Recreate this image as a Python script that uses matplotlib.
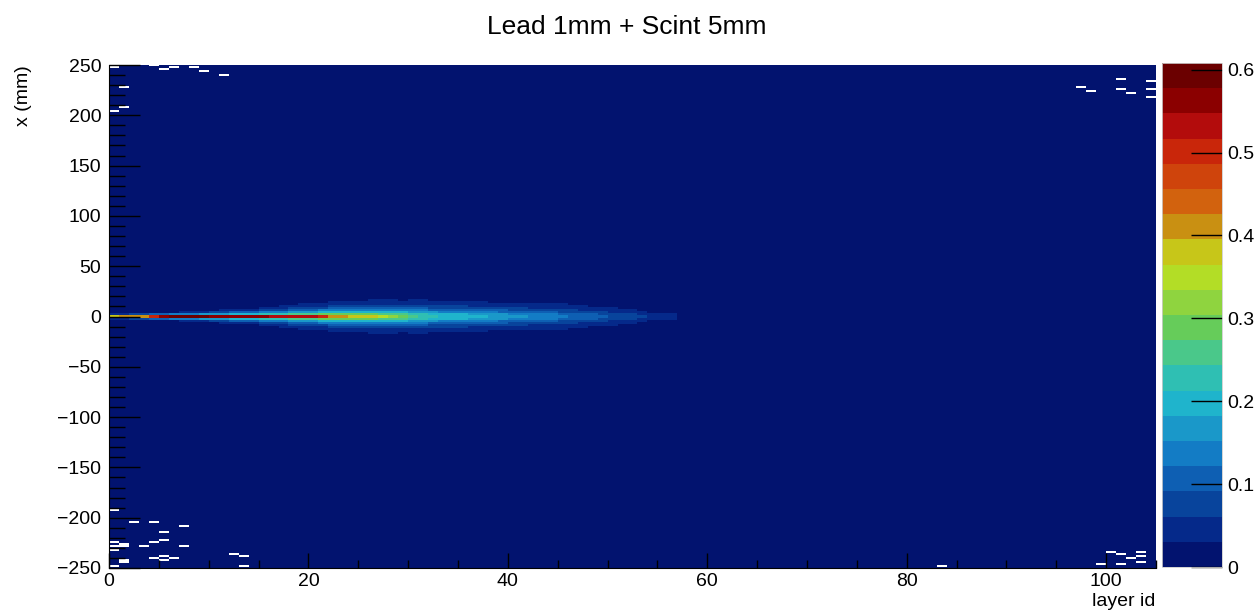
import matplotlib
matplotlib.use("Agg")
import matplotlib.pyplot as plt
import numpy as np
from matplotlib.colors import ListedColormap, BoundaryNorm
from matplotlib.ticker import MultipleLocator, FuncFormatter

plt.rcParams['font.family'] = ['Liberation Sans', 'DejaVu Sans']

# shower parameters per layer (layers 0..57)
# core: content of the central x bin, edge: content of the neighbouring bin,
# reach: half width (mm) where the content falls to the first contour level
core = [0.38, 0.40, 0.42, 0.42, 0.50, 0.55, 0.58, 0.608, 0.59, 0.58,
        0.57, 0.565, 0.56, 0.555, 0.55, 0.55, 0.545, 0.54, 0.535, 0.53,
        0.52, 0.49, 0.42, 0.40, 0.39, 0.38, 0.37, 0.34, 0.31, 0.29,
        0.26, 0.24, 0.22, 0.21, 0.205, 0.20, 0.195, 0.185, 0.178, 0.17,
        0.163, 0.155, 0.148, 0.14, 0.132, 0.126, 0.12, 0.11, 0.10, 0.092,
        0.085, 0.076, 0.068, 0.062, 0.055, 0.045, 0.035, 0.02]
edge = [0.05, 0.06, 0.07, 0.08, 0.10, 0.12, 0.13, 0.14, 0.15, 0.16,
        0.17, 0.18, 0.19, 0.20, 0.21, 0.22, 0.23, 0.24, 0.25, 0.26,
        0.27, 0.28, 0.29, 0.29, 0.29, 0.29, 0.28, 0.27, 0.26, 0.25,
        0.23, 0.22, 0.205, 0.195, 0.19, 0.185, 0.18, 0.17, 0.165, 0.158,
        0.15, 0.143, 0.137, 0.13, 0.122, 0.115, 0.108, 0.10, 0.092, 0.084,
        0.077, 0.07, 0.063, 0.056, 0.05, 0.042, 0.032, 0.018]
reach = [1, 1, 1.5, 2, 2.5, 3, 3.5, 4, 4.5, 5,
         5.5, 6.5, 7, 7.5, 8, 9, 9.5, 10.5, 11, 12,
         12.5, 13, 14, 14.5, 15, 15.5, 16, 16, 16, 16,
         16, 16, 15.5, 15.5, 15, 15, 14.5, 14.5, 14, 14,
         13.5, 13.5, 13, 13, 12.5, 12, 11, 10.5, 10, 9,
         8, 7, 6, 5, 4, 3, 2, 0]

# empty bins (layer, x in mm)
empty_bins = [(0, 248), (2, 250), (4, 250), (5, 246), (6, 248), (8, 248), (9, 244),
              (11, 240), (1, 228), (0, 204), (1, 208),
              (0, -192), (2, -204), (4, -204), (7, -208), (5, -214), (0, -224),
              (0, -228), (1, -226), (1, -228), (3, -228), (4, -224), (5, -222),
              (7, -228), (0, -232), (1, -242), (1, -244), (4, -240), (5, -238),
              (6, -240), (5, -242), (0, -248), (12, -236), (13, -238), (13, -248),
              (99, -246), (100, -234), (101, -236), (101, -246), (102, -240),
              (103, -234), (103, -238), (103, -244), (83, -248),
              (97, 228), (98, 224), (101, 236), (101, 226), (102, 222),
              (104, 234), (104, 226), (104, 218)]

n_layers = 105
background = 0.001
zmax = 0.608
n_contours = 20

palette = ['#02136f', '#05298a', '#08449c', '#0e5fb3', '#137cc5',
           '#1a98c9', '#1fb4cc', '#2fbfb3', '#4ac88a', '#66cc5a',
           '#8fd43f', '#b3dd26', '#c7c619', '#c99012', '#d2620e',
           '#cf440c', '#c9260a', '#b30c0c', '#8b0000', '#6b0000']

# build the histogram: 1 layer x 2 mm bins
x_edges = np.arange(n_layers + 1)
y_edges = np.arange(-251, 252, 2)
y_centers = 0.5 * (y_edges[:-1] + y_edges[1:])
level1 = zmax / n_contours

hist = np.full((len(y_centers), n_layers), background)
for layer in range(len(core)):
    ay = np.abs(y_centers)
    if reach[layer] > 2 and edge[layer] > level1:
        s = (reach[layer] - 2) / np.log(edge[layer] / level1)
    else:
        s = 0.8
    prof = edge[layer] * np.exp(-(ay - 2) / s)
    prof[ay < 1] = core[layer]
    hist[:, layer] = np.maximum(prof, background)

for layer, xmm in empty_bins:
    iy = np.argmin(np.abs(y_centers - xmm))
    hist[iy, layer] = np.nan

cmap = ListedColormap(palette)
cmap.set_bad('white')
norm = BoundaryNorm(np.linspace(0, zmax, n_contours + 1), cmap.N)

fig = plt.figure(figsize=(12.58, 6.15), dpi=100)
ax = fig.add_axes([109 / 1258, 47 / 615, 1047 / 1258, 503 / 615])
cax = fig.add_axes([1162 / 1258, 48 / 615, 60 / 1258, 504 / 615])

mesh = ax.pcolormesh(x_edges, y_edges, np.ma.masked_invalid(hist),
                     cmap=cmap, norm=norm, antialiased=False)
ax.set_xlim(0, 105)
ax.set_ylim(-250, 250)

ax.spines['top'].set_visible(False)
ax.spines['right'].set_visible(False)
ax.xaxis.set_major_locator(MultipleLocator(20))
ax.xaxis.set_minor_locator(MultipleLocator(5))
ax.yaxis.set_major_locator(MultipleLocator(50))
ax.yaxis.set_minor_locator(MultipleLocator(10))
ax.tick_params(axis='x', which='major', direction='in', length=10.8, width=1,
               labelsize=14, pad=3.5)
ax.tick_params(axis='x', which='minor', direction='in', length=5.8, width=1)
ax.tick_params(axis='y', which='major', direction='in', length=22.3, width=1,
               labelsize=14, pad=5.5)
ax.tick_params(axis='y', which='minor', direction='in', length=11.5, width=1)

cb = fig.colorbar(mesh, cax=cax, ticks=[0, 0.1, 0.2, 0.3, 0.4, 0.5, 0.6])
cb.outline.set_linewidth(0.6)
cb.outline.set_edgecolor('#cccccc')
cax.yaxis.set_major_formatter(FuncFormatter(lambda v, p: '%g' % v))
cax.tick_params(direction='in', length=22.3, width=1, labelsize=14, pad=4)
cax.minorticks_off()

fig.text(627 / 1258, 1 - 34.5 / 615, 'Lead 1mm + Scint 5mm', fontsize=19,
         ha='center', va='baseline')
fig.text(24 / 1258, 1 - 65 / 615, 'x (mm)', fontsize=14, rotation=90,
         ha='center', va='top')
fig.text(1155 / 1258, 1 - 606 / 615, 'layer id', fontsize=14,
         ha='right', va='baseline')

fig.savefig('out.png', dpi=100)
